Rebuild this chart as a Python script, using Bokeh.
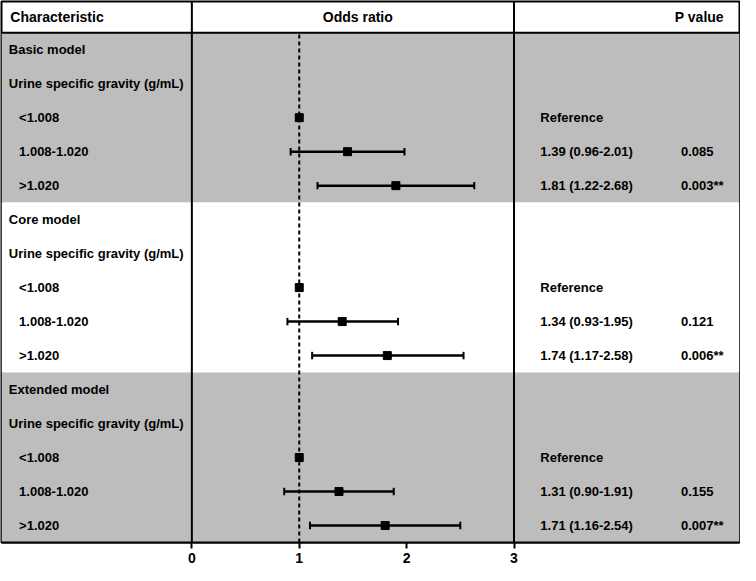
from bokeh.plotting import figure
from bokeh.models import Range1d, FixedTicker
from bokeh.core.properties import value
from bokeh.embed import file_html
from bokeh.resources import INLINE

# ---------------- data ----------------
models = ["Basic model", "Core model", "Extended model"]
subgroup_label = "Urine specific gravity (g/mL)"
categories = ["<1.008", "1.008-1.020", ">1.020"]

or_text = [
    ["Reference", "1.39 (0.96-2.01)", "1.81 (1.22-2.68)"],
    ["Reference", "1.34 (0.93-1.95)", "1.74 (1.17-2.58)"],
    ["Reference", "1.31 (0.90-1.91)", "1.71 (1.16-2.54)"],
]
p_text = [
    ["", "0.085", "0.003**"],
    ["", "0.121", "0.006**"],
    ["", "0.155", "0.007**"],
]
# plotted estimates (as drawn)
est = [
    [1.00, 1.45, 1.90],
    [1.00, 1.40, 1.82],
    [1.00, 1.37, 1.80],
]
lower = [
    [None, 0.92, 1.17],
    [None, 0.89, 1.12],
    [None, 0.86, 1.10],
]
upper = [
    [None, 1.98, 2.63],
    [None, 1.92, 2.53],
    [None, 1.88, 2.50],
]
band_fill = ["#bdbdbd", "#ffffff", "#bdbdbd"]
x_ticks = [0, 1, 2, 3]

header_left = "Characteristic"
header_mid = "Odds ratio"
header_right = "P value"

# ---------------- layout helpers ----------------
PX = 110.0          # reference pixels per OR unit
X0 = 195.0          # reference pixel of OR = 0
def xr(px):
    return (px - X0) / PX

n_rows = len(models) * (2 + len(categories))
ROW_PX = 34.93
y_top = 556.0 / ROW_PX
def yc(i):
    return n_rows - i - 0.5

FONT = value("Liberation Sans")

p = figure(width=740, height=565, output_backend="svg", toolbar_location=None,
           x_range=Range1d(xr(0), xr(756)), y_range=Range1d(0, y_top),
           y_axis_location=None, min_border_left=1, min_border_right=1,
           min_border_top=1, min_border_bottom=0)
p.xgrid.visible = False
p.ygrid.visible = False
p.outline_line_color = "black"
p.outline_line_width = 2
p.background_fill_color = "white"
p.border_fill_color = "white"

# bands
rows_per_model = 2 + len(categories)
for m in range(len(models)):
    top = n_rows - m * rows_per_model
    p.quad(left=xr(0), right=xr(756), bottom=top - rows_per_model, top=top,
           fill_color=band_fill[m], line_color=None)

# separators
p.segment(x0=[0, 3], y0=[0, 0], x1=[0, 3], y1=[y_top, y_top],
          line_color="black", line_width=2)
p.segment(x0=[xr(0)], y0=[n_rows], x1=[xr(756)], y1=[n_rows],
          line_color="black", line_width=2)

# reference line
p.segment(x0=[1], y0=[0], x1=[1], y1=[n_rows], line_color="black",
          line_width=2, line_dash="4 3")

# texts and marks
lab_x, lab_y, lab_t = [], [], []
or_x, or_y, or_t = [], [], []
pv_x, pv_y, pv_t = [], [], []
bx0, bx1, by = [], [], []
sx, sy = [], []
i = 0
for m, model in enumerate(models):
    lab_x.append(xr(7.5)); lab_y.append(yc(i)); lab_t.append(model); i += 1
    lab_x.append(xr(7.5)); lab_y.append(yc(i)); lab_t.append(subgroup_label); i += 1
    for c, cat in enumerate(categories):
        lab_x.append(xr(18)); lab_y.append(yc(i)); lab_t.append(cat)
        or_x.append(xr(552)); or_y.append(yc(i)); or_t.append(or_text[m][c])
        pv_x.append(xr(696)); pv_y.append(yc(i)); pv_t.append(p_text[m][c])
        sx.append(est[m][c]); sy.append(yc(i))
        if lower[m][c] is not None:
            bx0.append(lower[m][c]); bx1.append(upper[m][c]); by.append(yc(i))
        i += 1

# error bars
p.segment(x0=bx0, y0=by, x1=bx1, y1=by, line_color="black", line_width=2.5)
cap = 0.11
p.segment(x0=bx0 + bx1, y0=[y - cap for y in by] * 2, x1=bx0 + bx1,
          y1=[y + cap for y in by] * 2, line_color="black", line_width=2)
p.scatter(x=sx, y=sy, marker="square", size=8, fill_color="black", line_color="black")

txt_kw = dict(text_font=FONT, text_font_style="bold", text_font_size="13px",
              text_baseline="middle", text_color="black")
p.text(x=lab_x, y=lab_y, text=lab_t, text_align="left", **txt_kw)
p.text(x=or_x, y=or_y, text=or_t, text_align="left", **txt_kw)
p.text(x=pv_x, y=pv_y, text=pv_t, text_align="left", **txt_kw)

hy = (n_rows + y_top) / 2
hdr_kw = dict(text_font=FONT, text_font_style="bold", text_font_size="14px",
              text_baseline="middle", text_color="black")
p.text(x=[xr(9)], y=[hy], text=[header_left], text_align="left", **hdr_kw)
p.text(x=[xr(365)], y=[hy], text=[header_mid], text_align="center", **hdr_kw)
p.text(x=[xr(740)], y=[hy], text=[header_right], text_align="right", **hdr_kw)

# axis
ax = p.xaxis[0]
ax.ticker = FixedTicker(ticks=x_ticks)
ax.axis_line_width = 2
ax.axis_line_color = "black"
ax.major_tick_line_width = 2
ax.major_tick_out = 6
ax.major_tick_in = 0
ax.minor_tick_line_color = None
ax.major_label_text_font = "Liberation Sans"
ax.major_label_text_font_style = "bold"
ax.major_label_text_font_size = "14px"
ax.major_label_text_color = "black"
ax.major_label_standoff = 4

open("out.html", "w").write(file_html(p, INLINE))
